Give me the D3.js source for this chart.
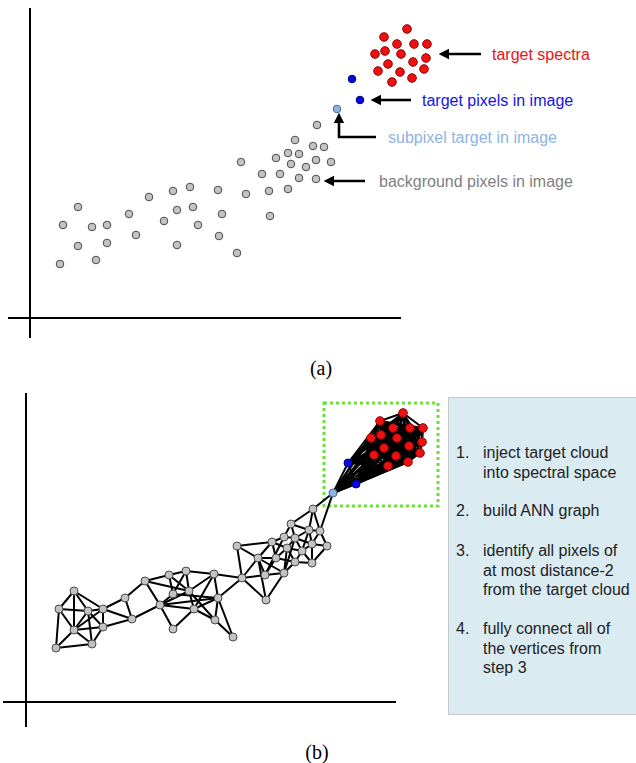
<!DOCTYPE html>
<html lang="en">
<head>
<meta charset="utf-8">
<title>Target cloud in spectral space</title>
<script src="https://cdn.jsdelivr.net/npm/d3@7"></script>
<style>
  body { margin: 0; background: #fff; }
  svg { display: block; font-family: "Liberation Sans", Arial, sans-serif; }
</style>
</head>
<body>
<div class="chart"></div>
<script>
// background pixels: [id, x, y] in spectral units (origin at the axes corner)
const background = [
  ["A", 48, 111], ["B", 33, 93], ["C", 62, 91], ["D", 48, 72], ["E", 30, 54],
  ["F", 66, 58], ["G", 77, 93], ["H", 77, 75], ["I", 99, 104], ["J", 106, 83],
  ["K", 119, 121], ["L", 134, 97], ["M", 143, 127], ["N", 160, 131], ["O", 147, 108],
  ["P", 163, 111], ["Q", 168, 93], ["R", 147, 73], ["S", 188, 128], ["T", 192, 104],
  ["U", 189, 82], ["V", 207, 65], ["W", 216, 124], ["X", 211, 156], ["Y", 232, 144],
  ["Z", 239, 127], ["AA", 240, 102], ["AB", 246, 160], ["AC", 250, 144], ["AD", 258, 129],
  ["AE", 258, 165], ["AF", 261, 154], ["AG", 265, 178], ["AH", 269, 164], ["AI", 269, 140],
  ["AJ", 276, 151], ["AL", 283, 172], ["AM", 286, 158], ["AN", 286, 139], ["AO", 287, 193],
  ["AP", 294, 171], ["AQ", 301, 156]
];
const subpixel = [["S0", 307, 209]];
const targetPixels = [["B1", 322, 239], ["B2", 330, 218]];
const targetSpectra = [
  ["R1", 377, 289], ["R2", 354, 281], ["R3", 367, 274], ["R4", 384, 274], ["R5", 397, 274],
  ["R6", 345, 264], ["R7", 355, 267], ["R8", 371, 264], ["R9", 396, 260], ["R10", 383, 256],
  ["R11", 358, 254], ["R12", 348, 247], ["R13", 370, 246], ["R14", 394, 249], ["R15", 382, 240],
  ["R16", 362, 236]
];
// approximate nearest-neighbour graph edges
const annEdges = [
  ["A","B"],["A","C"],["A","D"],["A","G"],["B","C"],["B","D"],["B","E"],["C","D"],["C","G"],
  ["C","H"],["C","F"],["D","E"],["D","F"],["D","G"],["D","H"],["E","F"],["F","H"],["G","H"],
  ["G","I"],["G","J"],["H","J"],["I","J"],["I","K"],["J","L"],
  ["K","M"],["K","L"],["K","P"],["M","N"],["M","O"],["M","P"],["N","O"],["N","P"],["N","S"],
  ["S","W"],["S","P"],["S","Q"],["S","T"],["W","T"],["T","V"],["T","Q"],["T","L"],["L","O"],
  ["L","P"],["L","Q"],["L","R"],["R","Q"],["P","Q"],["P","U"],["U","T"],["U","V"],["Q","U"],["O","T"],
  ["X","AB"],["X","W"],["X","Y"],["W","Y"],["W","Z"],["W","AA"],["Y","AA"],["Y","AB"],["Y","Z"],
  ["Y","AD"],["Y","AC"],["Z","AC"],["Z","AD"],["Z","AE"],["AA","AD"],["AB","AE"],["AB","AC"],
  ["AB","AF"],["AC","AF"],["AC","AI"],["AD","AI"],["AD","AF"],["AD","AH"],["AE","AG"],["AE","AH"],
  ["AF","AH"],["AF","AJ"],["AF","AI"],["AG","AH"],["AG","AO"],["AG","AL"],["AH","AJ"],["AH","AL"],
  ["AH","AM"],["AI","AN"],["AI","AJ"],["AJ","AN"],["AJ","AL"],["AJ","AM"],["AL","AM"],["AL","AO"],
  ["AL","AP"],["AM","AP"],["AM","AQ"],["AP","AQ"],["AQ","AN"],["AO","AP"],["AM","AN"],
  ["S0","AO"],["S0","AP"]
];
const labelsA = ["target spectra", "target pixels in image", "subpixel target in image", "background pixels in image"];
const steps = [
  ["1.", "inject target cloud", "into spectral space"],
  ["2.", "build ANN graph"],
  ["3.", "identify all pixels of", "at most distance-2", "from the target cloud"],
  ["4.", "fully connect all of", "the vertices from", "step 3"]
];

const W = 636, H = 763;
const svg = d3.select(".chart").append("svg").attr("width", W).attr("height", H);

const defs = svg.append("defs");
defs.append("marker")
  .attr("id", "head").attr("viewBox", "0 0 10 10")
  .attr("refX", 2).attr("refY", 5)
  .attr("markerWidth", 4).attr("markerHeight", 4.4)
  .attr("orient", "auto")
  .append("path").attr("d", "M0,0 L10,5 L0,10 z").attr("fill", "#000");

const grayFill = "#c3c3c3", grayStroke = "#4a4a4a";
const redFill = "#ee1111", blueFill = "#0a0ae0", lightBlue = "#8db4e2";

// ---------- panel (a) ----------
const xA = d3.scaleLinear().domain([0, 370]).range([30, 400]);
const yA = d3.scaleLinear().domain([0, 310]).range([318, 8]);
const gA = svg.append("g");

gA.append("line").attr("x1", xA(0)).attr("x2", xA(0)).attr("y1", yA(310)).attr("y2", yA(0) + 20)
  .attr("stroke", "#000").attr("stroke-width", 2);
gA.append("line").attr("x1", xA(0) - 22).attr("x2", xA(371)).attr("y1", yA(0)).attr("y2", yA(0))
  .attr("stroke", "#000").attr("stroke-width", 2);

function dots(g, data, xs, ys, r, fill, stroke) {
  g.selectAll(null).data(data).enter().append("circle")
    .attr("cx", d => xs(d[1])).attr("cy", d => ys(d[2])).attr("r", r)
    .attr("fill", fill).attr("stroke", stroke).attr("stroke-width", 1);
}
dots(gA, background, xA, yA, 3.8, grayFill, grayStroke);
dots(gA, subpixel, xA, yA, 3.8, lightBlue, "#4a6a90");
dots(gA, targetPixels, xA, yA, 3.8, blueFill, "#000080");
dots(gA, targetSpectra, xA, yA, 4.3, redFill, "#900");

// annotation arrows
const arrowLines = [
  [[481, 54], [447, 54]],
  [[411, 100], [379, 100]],
  [[376, 137], [339, 137], [339, 121]],
  [[365, 181], [332, 181]]
];
gA.selectAll(null).data(arrowLines).enter().append("path")
  .attr("d", d => d3.line()(d))
  .attr("fill", "none").attr("stroke", "#000").attr("stroke-width", 2.6)
  .attr("marker-end", "url(#head)");

const labelPos = [[492, 60, "#ee1111"], [422, 106, "#1414e6"], [388, 143, "#8db4e2"], [379, 187, "#7f7f7f"]];
gA.selectAll(null).data(labelsA).enter().append("text")
  .attr("x", (d, i) => labelPos[i][0]).attr("y", (d, i) => labelPos[i][1])
  .attr("fill", (d, i) => labelPos[i][2])
  .attr("font-size", "16px").text(d => d);

svg.append("text").attr("x", 321).attr("y", 375).attr("text-anchor", "middle")
  .attr("font-family", "'Liberation Serif', 'Times New Roman', serif").attr("font-size", "20px")
  .text("(a)");

// ---------- panel (b) ----------
const xB = d3.scaleLinear().domain([0, 370]).range([26, 396]);
const yB = d3.scaleLinear().domain([0, 309]).range([702, 393]);
const gB = svg.append("g");

gB.append("line").attr("x1", xB(0)).attr("x2", xB(0)).attr("y1", yB(309)).attr("y2", yB(0) + 25)
  .attr("stroke", "#000").attr("stroke-width", 2);
gB.append("line").attr("x1", xB(0) - 23).attr("x2", xB(370)).attr("y1", yB(0)).attr("y2", yB(0))
  .attr("stroke", "#000").attr("stroke-width", 2);

// text box
gB.append("rect").attr("x", 448.5).attr("y", 397.5).attr("width", 190).attr("height", 317)
  .attr("fill", "#dbebf2").attr("stroke", "#c4c8ca").attr("stroke-width", 1);

// green dotted selection
gB.append("rect").attr("x", 324).attr("y", 403).attr("width", 114).attr("height", 103)
  .attr("fill", "none").attr("stroke", "#6ee03a").attr("stroke-width", 3)
  .attr("stroke-dasharray", "3,3");

const allNodes = background.concat(subpixel, targetPixels, targetSpectra);
const pos = new Map(allNodes.map(d => [d[0], d]));
const cloud = subpixel.concat(targetPixels, targetSpectra);
const fullEdges = [];
cloud.forEach((a, i) => cloud.forEach((b, j) => { if (j > i) fullEdges.push([a[0], b[0]]); }));

gB.selectAll(null).data(annEdges.concat(fullEdges)).enter().append("line")
  .attr("x1", d => xB(pos.get(d[0])[1])).attr("y1", d => yB(pos.get(d[0])[2]))
  .attr("x2", d => xB(pos.get(d[1])[1])).attr("y2", d => yB(pos.get(d[1])[2]))
  .attr("stroke", "#000").attr("stroke-width", 2);

dots(gB, background, xB, yB, 4, grayFill, grayStroke);
dots(gB, subpixel, xB, yB, 4, lightBlue, "#4a6a90");
dots(gB, targetPixels, xB, yB, 4, blueFill, "#000080");
dots(gB, targetSpectra, xB, yB, 4.3, redFill, "#900");

// step list
const lineTops = [[452, 472], [510], [550, 570, 589], [628, 648, 667]];
steps.forEach((s, i) => {
  gB.append("text").attr("x", 456).attr("y", lineTops[i][0] + 6)
    .attr("font-size", "16px").attr("fill", "#222").text(s[0]);
  s.slice(1).forEach((t, k) => {
    gB.append("text").attr("x", 483).attr("y", lineTops[i][k] + 6)
      .attr("font-size", "16px").attr("fill", "#222").text(t);
  });
});

svg.append("text").attr("x", 317).attr("y", 759).attr("text-anchor", "middle")
  .attr("font-family", "'Liberation Serif', 'Times New Roman', serif").attr("font-size", "20px")
  .text("(b)");
</script>
</body>
</html>
